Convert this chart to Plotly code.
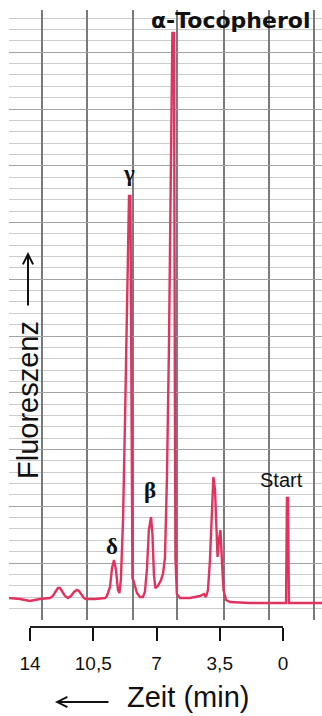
import plotly.graph_objects as go

# Chromatogram trace: time (min) and fluorescence (arbitrary units)
time_min = [15.16, 14.55, 14.00, 13.45, 12.89, 12.73, 12.56, 12.45, 12.34, 12.23,
            12.06, 11.90, 11.73, 11.56, 11.40, 11.29, 11.17, 11.01, 10.90, 10.40,
            9.85, 9.74, 9.57, 9.46, 9.35, 9.24, 9.13, 9.05, 8.97, 8.85,
            8.74, 8.63, 8.52, 8.44, 8.41, 8.38, 8.33, 8.25, 8.08, 7.91,
            7.75, 7.64, 7.53, 7.42, 7.30, 7.22, 7.14, 7.06, 6.92, 6.75,
            6.64, 6.53, 6.42, 6.31, 6.20, 6.12, 6.03, 6.00, 5.98, 5.95,
            5.87, 5.70, 5.15, 4.59, 4.37, 4.26, 4.15, 4.04, 3.93, 3.85,
            3.76, 3.68, 3.62, 3.54, 3.46, 3.38, 3.29, 3.15, 2.93, 1.83,
            0.72, -0.17, -0.22, -0.28, -0.33, -0.94, -2.16]
fluorescence = [0, -1, -3, -1, 0, 2, 7, 10, 10, 7,
                2, 0, 2, 6, 8, 7, 4, 0, -1, -1,
                0, 2, 11, 30, 38, 28, 8, 5, 18, 78,
                178, 298, 402, 402, 248, 98, 20, 16, 5, 1,
                1, 6, 28, 68, 81, 63, 23, 10, 12, 18,
                24, 40, 120, 250, 440, 565, 565, 440, 200, 40,
                4, 0, 0, 2, 4, 1, 8, 38, 88, 121,
                108, 58, 41, 58, 68, 38, 8, -2, -4, -5,
                -5, -5, 100, 100, -5, -5, -5]

# Time axis ticks
tick_values = [14, 10.5, 7, 3.5, 0]
tick_labels = ["14", "10,5", "7", "3,5", "0"]

# Peak labels: (text, time, fluorescence)
peak_labels = ["γ", "β", "δ"]
peak_label_time = [8.52, 7.36, 9.46]
peak_label_fluor = [425, 108, 52]

# Chart-paper vertical rulings (in minutes)
paper_grid_min = [13.36, 10.85, 8.30, 5.87, 3.29, 0.75, -1.72]

SANS = "Liberation Sans, Arial, sans-serif"
SERIF = "Liberation Serif, Times New Roman, serif"
RED = "#e0335f"

fig = go.Figure()
fig.add_trace(go.Scatter(
    x=time_min, y=fluorescence, mode="lines",
    line=dict(color=RED, width=2.4), hoverinfo="skip", showlegend=False,
    xaxis="x", yaxis="y"))
fig.add_trace(go.Scatter(
    x=tick_values, y=[0.5] * len(tick_values), mode="markers",
    marker=dict(opacity=0), hoverinfo="skip", showlegend=False,
    xaxis="x2", yaxis="y2"))

W, H = 322, 716
ml, mr, mt, mb = 9, 0, 10, 90
pw, ph = W - ml - mr, H - mt - mb


def px(xp):
    return (xp - ml) / pw


def py(yp):
    return (H - mb - yp) / ph


fig.update_layout(
    width=W, height=H,
    margin=dict(l=ml, r=mr, t=mt, b=mb, pad=0),
    paper_bgcolor="white", plot_bgcolor="white",
    font=dict(family=SANS, color="#111"),
    xaxis=dict(domain=[0, 1], range=[15.16, -2.16], anchor="y",
               tickvals=paper_grid_min, showticklabels=False, ticks="",
               showgrid=True, gridcolor="#7a7a7a", gridwidth=1.7,
               zeroline=False, showline=False, automargin=False),
    yaxis=dict(domain=[6 / ph, 1], range=[-22, 588], anchor="x",
               showticklabels=False, ticks="", tick0=35, dtick=56.75,
               showgrid=True, gridcolor="#a2a2a2", gridwidth=1.4,
               minor=dict(tick0=35, dtick=11.35, showgrid=True,
                          gridcolor="#cccccc", gridwidth=1.2),
               zeroline=False, showline=False, automargin=False),
    xaxis2=dict(domain=[px(30), px(283)], range=[14, 0], anchor="y2",
                tickvals=tick_values, ticktext=tick_labels,
                ticks="outside", ticklen=13, tickwidth=2, tickcolor="#111",
                showline=True, linecolor="#222", linewidth=1.5,
                showgrid=False, zeroline=False, automargin=False,
                tickfont=dict(family=SANS, size=19, color="#111"),
                ticklabelstandoff=6),
    yaxis2=dict(domain=[0, 6 / ph], range=[0, 1], anchor="x2", visible=False),
)

ann = []
for t, xv, yv in zip(peak_labels, peak_label_time, peak_label_fluor):
    ann.append(dict(text=f"<b>{t}</b>", x=xv, y=yv, xref="x", yref="y",
                    xanchor="center", yanchor="middle",
                    showarrow=False, font=dict(family=SERIF, size=23, color="#111")))
ann.append(dict(text="<b>α-Tocopherol</b>", x=px(230), y=py(20), xref="paper", yref="paper",
                xanchor="center", yanchor="middle",
                showarrow=False, font=dict(family="DejaVu Sans, sans-serif", size=22, color="#111")))
ann.append(dict(text="Start", x=px(281), y=py(480), xref="paper", yref="paper",
                xanchor="center", yanchor="middle",
                showarrow=False, font=dict(family=SANS, size=20, color="#111")))
ann.append(dict(text="Fluoreszenz", x=px(28), y=py(400), xref="paper", yref="paper",
                xanchor="center", yanchor="middle",
                textangle=-90, showarrow=False, font=dict(family=SANS, size=29, color="#111")))
ann.append(dict(text="Zeit (min)", x=px(188), y=py(697), xref="paper", yref="paper",
                xanchor="center", yanchor="middle",
                showarrow=False, font=dict(family=SANS, size=29, color="#111")))
# arrows
ann.append(dict(text="", x=px(28), y=py(252), xref="paper", yref="paper",
                ax=0, ay=55, showarrow=True, arrowhead=5, arrowsize=1,
                arrowwidth=2, arrowcolor="#111"))
ann.append(dict(text="", x=px(55), y=py(702), xref="paper", yref="paper",
                ax=55, ay=0, showarrow=True, arrowhead=5, arrowsize=1,
                arrowwidth=2, arrowcolor="#111"))
fig.update_layout(annotations=ann)

fig.write_html("out.html")
